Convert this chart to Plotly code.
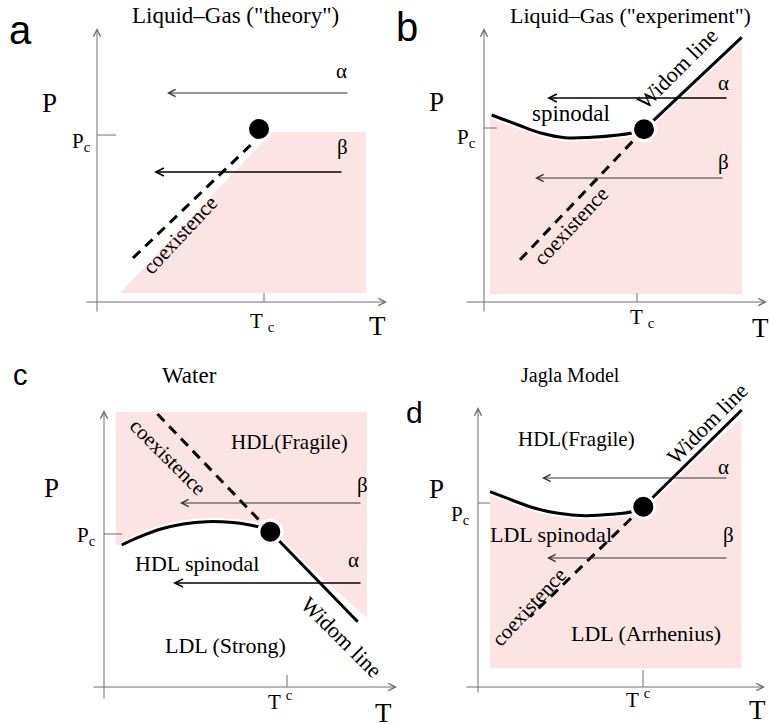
import plotly.graph_objects as go

# ---------------- schematic data (T to the right, P upward; arbitrary units) -------------
# Panel a : Liquid-Gas ("theory")
A_FILL_T = [23, 175, 269, 269]
A_FILL_P = [9, 170, 170, 9]
A_COEX_T = [36, 161]
A_COEX_P = [44, 164]
A_CRIT_T = [162]
A_CRIT_P = [173]
A_ALPHA_T = [252, 70]
A_ALPHA_P = [209, 209]
A_BETA_T = [246, 57]
A_BETA_P = [130, 130]
A_TC = 167
A_PC = 167

# Panel b : Liquid-Gas ("experiment")
B_SPIN_T = [7.7, 34.3, 57.7, 81, 107.7, 134.3, 154.3, 160]
B_SPIN_P = [187, 177, 168.7, 164.3, 164.7, 167, 170.3, 172.7]
B_WIDOM_T = [160, 257.7]
B_WIDOM_P = [172.7, 264.7]
B_COEX_T = [160, 32.7]
B_COEX_P = [172.7, 38.7]
B_FILL_LEFT_T = [6, 6]
B_FILL_LEFT_P = [8, 187]
B_FILL_RIGHT_T = [258, 258]
B_FILL_RIGHT_P = [259, 8]
B_ALPHA_T = [244, 63]
B_ALPHA_P = [204, 204]
B_BETA_T = [240, 51]
B_BETA_P = [124, 124]
B_TC = 153
B_PC = 174

# Panel c : Water
C_SPIN_T = [17.7, 36, 56, 79.3, 102.7, 126, 146, 159.3, 166.3]
C_SPIN_P = [142, 150.3, 157.7, 163, 165.3, 164.7, 162, 158.7, 155.3]
C_WIDOM_T = [166.3, 253.7]
C_WIDOM_P = [155.3, 65.3]
C_COEX_T = [166.3, 52.7]
C_COEX_P = [155.3, 273.7]
C_FILL_CORNER_T = [12, 12, 263, 263]
C_FILL_CORNER_P = [142, 275, 275, 69]
C_ALPHA_T = [258, 69]
C_ALPHA_P = [104, 104]
C_BETA_T = [258, 76]
C_BETA_P = [184, 184]
C_TC = 183
C_PC = 153

# Panel d : Jagla Model
D_SPIN_T = [12, 33.7, 57, 80.3, 107, 133.7, 153.7, 165.3]
D_SPIN_P = [195.3, 187, 178.7, 173.7, 171.3, 172.7, 175.3, 180.3]
D_WIDOM_T = [165.3, 263.7]
D_WIDOM_P = [180.3, 277]
D_COEX_T = [165.3, 52]
D_COEX_P = [180.3, 70.3]
D_FILL_LEFT_T = [12]
D_FILL_LEFT_P = [18.7]
D_FILL_RIGHT_T = [263.7, 263.7]
D_FILL_RIGHT_P = [268.7, 18.7]
D_ALPHA_T = [250, 64]
D_ALPHA_P = [209, 209]
D_BETA_T = [250, 69]
D_BETA_P = [129, 129]
D_TC = 165
D_PC = 184

TITLES = ['Liquid–Gas ("theory")', 'Liquid–Gas ("experiment")', 'Water', 'Jagla Model']
LETTERS = ['a', 'b', 'c', 'd']

# ---------------- layout / style ----------------
W, H = 769, 724
PINK = '#fde4e4'
AXIS_GRAY = '#6e6e6e'
SERIF = 'Liberation Serif, Times New Roman, serif'
SANS = 'Liberation Sans, Arial, sans-serif'

# pixel position of each panel's axis origin
ORIGINS = [(97, 302), (484, 302), (104, 687), (478, 687)]
AXIS_EXT = [((-12, 290), (-11, 274)), ((-19, 283), (-11, 274)),
            ((-12, 293), (-13, 277)), ((-13, 287), (-7, 280))]
TICK_LEN = [(19, 9), (13, 9), (18, 12), (12, 17)]

fig = go.Figure()

def refs(i):
    return ('x' if i == 1 else f'x{i}'), ('y' if i == 1 else f'y{i}')

def line(i, t, p, color='black', width=3, dash=None, shape='linear'):
    xa, ya = refs(i)
    fig.add_trace(go.Scatter(x=t, y=p, mode='lines', xaxis=xa, yaxis=ya,
                             line=dict(color=color, width=width, dash=dash, shape=shape),
                             hoverinfo='skip', showlegend=False))

def fill(i, t, p):
    xa, ya = refs(i)
    fig.add_trace(go.Scatter(x=t, y=p, mode='lines', fill='toself', fillcolor=PINK,
                             line=dict(width=0), xaxis=xa, yaxis=ya,
                             hoverinfo='skip', showlegend=False))

def crit(i, t, p):
    xa, ya = refs(i)
    fig.add_trace(go.Scatter(x=t, y=p, mode='markers', xaxis=xa, yaxis=ya,
                             marker=dict(size=23, color='black', line=dict(color='white', width=3)),
                             hoverinfo='skip', showlegend=False))

def arrow(i, t, p, color, width, size):
    xa, ya = refs(i)
    fig.add_annotation(x=t[1], y=p[1], ax=t[0], ay=p[0], xref=xa, yref=ya,
                       axref=xa, ayref=ya, text='', showarrow=True, arrowhead=5,
                       arrowsize=size, arrowwidth=width, arrowcolor=color,
                       standoff=0, startstandoff=0)

def label(i, text, t, p, size=21, angle=0, family=SERIF, xanchor='center'):
    xa, ya = refs(i)
    fig.add_annotation(x=t, y=p, xref=xa, yref=ya, text=text, showarrow=False,
                       textangle=angle, xanchor=xanchor, yanchor='middle',
                       font=dict(family=family, size=size, color='black'))

DASH = '10px,7px'

# --- fills ---
fill(1, A_FILL_T, A_FILL_P)
fill(2, B_FILL_LEFT_T + B_SPIN_T + B_FILL_RIGHT_T, B_FILL_LEFT_P + B_SPIN_P + B_FILL_RIGHT_P)
fill(3, C_FILL_CORNER_T + C_SPIN_T[::-1], C_FILL_CORNER_P + C_SPIN_P[::-1])
fill(4, D_FILL_LEFT_T + D_SPIN_T + D_FILL_RIGHT_T, D_FILL_LEFT_P + D_SPIN_P + D_FILL_RIGHT_P)

# --- axes (arrows) and ticks ---
for i in range(1, 5):
    (t0, t1), (p0, p1) = AXIS_EXT[i - 1]
    arrow(i, [t0, t1], [0, 0], AXIS_GRAY, 1, 1.4)
    arrow(i, [0, 0], [p0, p1], AXIS_GRAY, 1, 1.4)

TCS = [A_TC, B_TC, C_TC, D_TC]
PCS = [A_PC, B_PC, C_PC, D_PC]
for i in range(1, 5):
    pl, tl = TICK_LEN[i - 1]
    line(i, [0, pl], [PCS[i - 1]] * 2, color=AXIS_GRAY, width=1)
    line(i, [TCS[i - 1]] * 2, [0, tl], color=AXIS_GRAY, width=1)

# --- coexistence (dashed) lines ---
line(1, A_COEX_T, A_COEX_P, dash=DASH)
line(2, B_COEX_T, B_COEX_P, dash=DASH)
line(3, C_COEX_T, C_COEX_P, dash=DASH)
line(4, D_COEX_T, D_COEX_P, dash=DASH)

# --- spinodals and Widom lines with white halo ---
for i, (st, sp, wt, wp) in zip([2, 3, 4], [(B_SPIN_T, B_SPIN_P, B_WIDOM_T, B_WIDOM_P),
                                           (C_SPIN_T, C_SPIN_P, C_WIDOM_T, C_WIDOM_P),
                                           (D_SPIN_T, D_SPIN_P, D_WIDOM_T, D_WIDOM_P)]):
    line(i, st, sp, color='white', width=7, shape='spline')
    line(i, wt, wp, color='white', width=7)
    line(i, st, sp, color='black', width=3, shape='spline')
    line(i, wt, wp, color='black', width=3)

# --- critical points ---
crit(1, A_CRIT_T, A_CRIT_P)
crit(2, [B_WIDOM_T[0]], [B_WIDOM_P[0]])
crit(3, [C_WIDOM_T[0]], [C_WIDOM_P[0]])
crit(4, [D_WIDOM_T[0]], [D_WIDOM_P[0]])

# --- process arrows ---
THIN, THICK = ('#333333', 1), ('black', 1.6)
arrow(1, A_ALPHA_T, A_ALPHA_P, *THIN, 1.4)
arrow(1, A_BETA_T, A_BETA_P, *THICK, 1.0)
arrow(2, B_ALPHA_T, B_ALPHA_P, *THICK, 1.0)
arrow(2, B_BETA_T, B_BETA_P, *THIN, 1.4)
arrow(3, C_BETA_T, C_BETA_P, *THIN, 1.4)
arrow(3, C_ALPHA_T, C_ALPHA_P, *THICK, 1.0)
arrow(4, D_ALPHA_T, D_ALPHA_P, *THIN, 1.4)
arrow(4, D_BETA_T, D_BETA_P, *THIN, 1.4)

# --- texts ---
TITLE_POS = [(138, 287), (146, 287), (85, 312), (92, 312)]
TITLE_SIZE = [23, 22, 23, 20]
LETTER_POS = [(-77, 272), (-77, 275), (-84, 312), (-64, 275)]
LETTER_SIZE = [40, 40, 29, 30]
P_POS = [(-48, 199), (-48, 200), (-53, 199), (-42, 198)]
T_POS = [(280, -24), (276, -26), (279, -26), (279, -23)]
PC_POS = [(-4, 160), (-6, 164), (-6, 151), (-6, 172)]
TC_POS = [(165, -20), (158, -16), (176, -13), (160, -11)]
TC_TEXT = ['T <sub>c</sub>', 'T <sub>c</sub>', 'T <sup>c</sup>', 'T <sup>c</sup>']
for i in range(1, 5):
    k = i - 1
    label(i, TITLES[k], *TITLE_POS[k], size=TITLE_SIZE[k])
    label(i, LETTERS[k], *LETTER_POS[k], size=LETTER_SIZE[k], family=SANS)
    label(i, 'P', *P_POS[k], size=27)
    label(i, 'T', *T_POS[k], size=27)
    label(i, 'P<sub>c</sub>', *PC_POS[k], size=21, xanchor='right')
    label(i, TC_TEXT[k], *TC_POS[k], size=21)

label(1, 'α', 244, 231)
label(1, 'β', 245, 155)
label(1, 'coexistence', 83, 67, angle=-47)

label(2, 'α', 239, 219)
label(2, 'β', 239, 140)
label(2, 'spinodal', 87, 189, size=23)
label(2, 'Widom line', 193, 234, angle=-45, size=22)
label(2, 'coexistence', 87, 76, angle=-47)

label(3, 'β', 258, 202)
label(3, 'α', 249, 127)
label(3, 'HDL(Fragile)', 185, 245)
label(3, 'HDL spinodal', 93, 124, size=22)
label(3, 'LDL (Strong)', 121, 42, size=22)
label(3, 'coexistence', 64, 230, angle=45)
label(3, 'Widom line', 238, 50, angle=45, size=22)

label(4, 'α', 245, 220)
label(4, 'β', 250, 152)
label(4, 'HDL(Fragile)', 98, 248)
label(4, 'LDL spinodal', 73, 153, size=22)
label(4, 'LDL (Arrhenius)', 168, 54, size=22)
label(4, 'coexistence', 51, 80, angle=-47)
label(4, 'Widom line', 229, 264, angle=-45, size=22)

# --- axes: one overlaid coordinate system per panel, 1 unit = 1 pixel ---
layout_axes = {}
for i, (ox, oy) in enumerate(ORIGINS, start=1):
    xname = 'xaxis' if i == 1 else f'xaxis{i}'
    yname = 'yaxis' if i == 1 else f'yaxis{i}'
    xa = dict(range=[-ox, W - ox], domain=[0, 1], visible=False, fixedrange=True)
    ya = dict(range=[oy - H, oy], domain=[0, 1], visible=False, fixedrange=True)
    if i > 1:
        xa['overlaying'] = 'x'
        ya['overlaying'] = 'y'
        xa['anchor'] = f'y{i}'
        ya['anchor'] = f'x{i}'
    layout_axes[xname] = xa
    layout_axes[yname] = ya

fig.update_layout(width=W, height=H, margin=dict(l=0, r=0, t=0, b=0),
                  paper_bgcolor='white', plot_bgcolor='white', autosize=False,
                  showlegend=False, **layout_axes)

fig.write_html('out.html', config={'displayModeBar': False, 'staticPlot': True},
               post_script="document.body.style.margin='0';document.body.style.overflow='hidden';")
